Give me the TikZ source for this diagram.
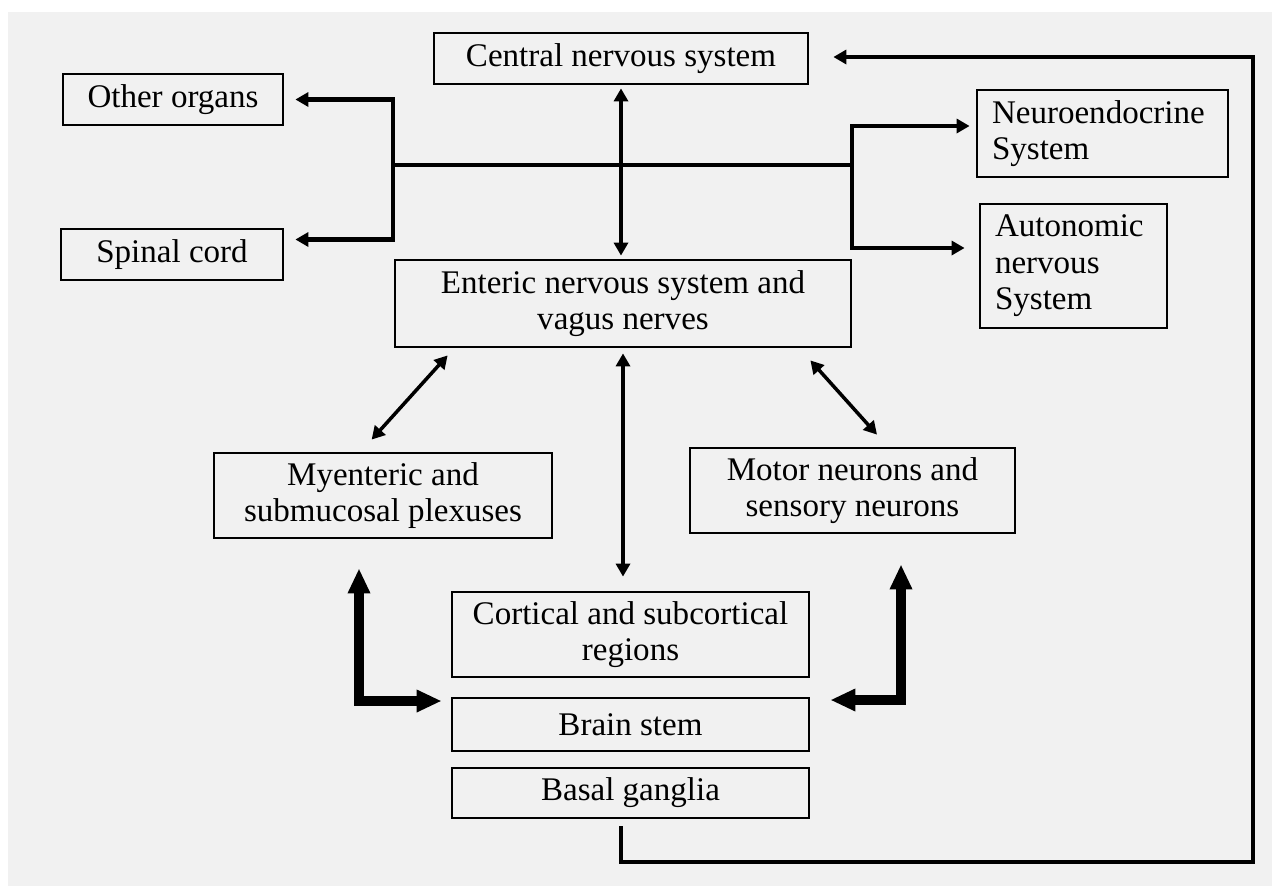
\documentclass[tikz,border=0pt]{standalone}
\usepackage{fontspec}
\setmainfont{Liberation Serif}
\usetikzlibrary{arrows.meta,calc}
\definecolor{panelgray}{RGB}{241,241,241}

\begin{document}
\begin{tikzpicture}[x=0.02cm, y=-0.02cm,
  box/.style={draw, line width=1.6pt, align=center, inner sep=0pt, font=\fontsize{18.8}{20.8}\selectfont},
  leftbox/.style={box, align=left, inner xsep=0.3cm},
  link/.style={line width=2pt, {Triangle[length=0.26cm,width=0.28cm]}-{Triangle[length=0.26cm,width=0.28cm]}},
  bar/.style={line width=2.3pt},
  bartips/.style={bar, {Triangle[length=0.26cm,width=0.28cm]}-{Triangle[length=0.26cm,width=0.28cm]}},
  fat/.style={line width=6.2pt, {Triangle[length=0.5cm,width=0.42cm]}-{Triangle[length=0.5cm,width=0.42cm]}}]
\fill[white] (0,0) rectangle (1272,886);
\fill[panelgray] (8,12) rectangle (1272,886);
\useasboundingbox (0,0) rectangle (1272,886);

% boxes
\node[box, minimum width=7.48cm, minimum height=1.02cm] (cns) at (621,58.5) {Central nervous system};
\node[box, minimum width=4.40cm, minimum height=1.02cm] (other) at (173,99.5) {Other organs};
\node[box, minimum width=4.44cm, minimum height=1.02cm] (spinal) at (172,254.5) {Spinal cord};
\node[leftbox, text width=4.42cm, minimum height=1.74cm] (neuro) at (1102.5,133.5) {Neuroendocrine\\System};
\node[leftbox, text width=3.14cm, minimum height=2.48cm] (auto) at (1073.5,266) {Autonomic\\nervous\\System};
\node[box, minimum width=9.12cm, minimum height=1.74cm] (enteric) at (623,303.5) {Enteric nervous system and\\vagus nerves};
\node[box, minimum width=6.76cm, minimum height=1.70cm] (myen) at (383,495.5) {Myenteric and\\submucosal plexuses};
\node[box, minimum width=6.50cm, minimum height=1.70cm] (motor) at (852.5,490.5) {Motor neurons and\\sensory neurons};
\node[box, minimum width=7.14cm, minimum height=1.70cm] (cortical) at (630.5,634.5) {Cortical and subcortical\\regions};
\node[box, minimum width=7.14cm, minimum height=1.06cm] (brain) at (630.5,724.5) {Brain stem};
\node[box, minimum width=7.14cm, minimum height=1.00cm] (basal) at (630.5,793) {Basal ganglia};

% branching lines
\coordinate (hubL) at (393,165);
\coordinate (hubR) at (852,165);
\coordinate (oTip) at ($(other.east)+(11,0)$);
\coordinate (sTip) at ($(spinal.east)+(11,-15)$);
\coordinate (nTip) at ($(neuro.west)+(-6,-7.5)$);
\coordinate (aTip) at ($(auto.west)+(-14,-18)$);
\draw[bar] (hubL) -- (hubR);
\draw[bartips] (oTip) -| (hubL) |- (sTip);
\draw[bartips] (nTip) -| (hubR) |- (aTip);

% two-way links
\draw[link] ($(cns.south)+(0,3)$) -- ($(cns.south |- enteric.north)+(0,-3)$);
\draw[link] ($(enteric.south)+(0,5)$) -- ($(enteric.south |- cortical.north)+(0,-14)$);
\draw[link] ($(enteric.south west)+(54,7)$) -- ($(myen.north west)+(159,-12)$);
\draw[link] ($(enteric.south east)+(-42,12)$) -- ($(motor.north)+(24.5,-12)$);

% thick arrows
\draw[fat] ($(myen.south)+(-24,29)$) |- ($(brain.west)+(-9,-23.5)$);
\draw[fat] ($(motor.south)+(48.5,30)$) |- ($(brain.east)+(20,-24.5)$);

% feedback loop
\coordinate (loopBR) at (1253,862);
\draw[bar, -{Triangle[length=0.26cm,width=0.28cm]}] ($(basal.south)+(-9.5,7)$) |- (loopBR) |- ($(cns.east)+(24,-1.5)$);
\end{tikzpicture}
\end{document}
